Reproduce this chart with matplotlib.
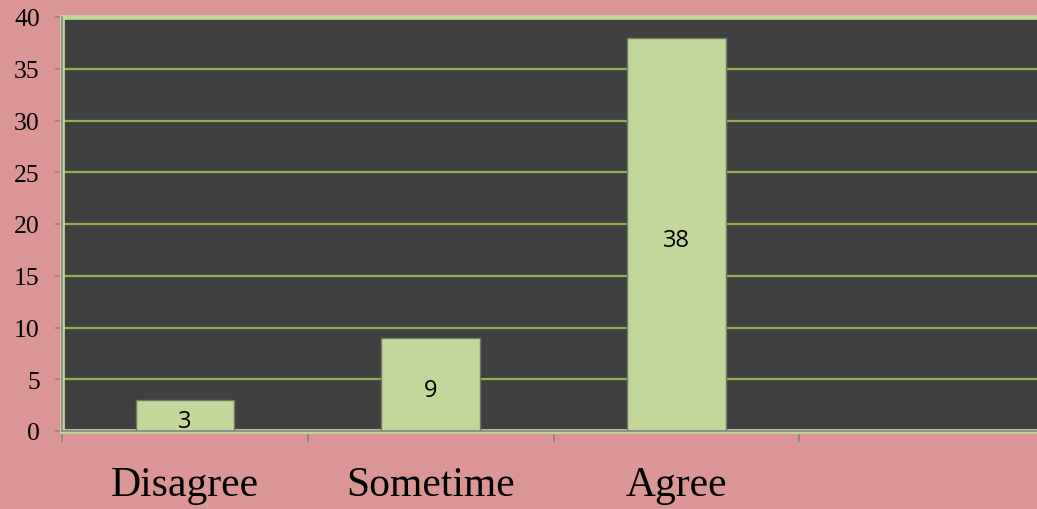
import matplotlib
matplotlib.use("Agg")
import matplotlib.pyplot as plt

# chart data
categories = ["Disagree", "Sometime", "Agree", ""]
values = [3, 9, 38, None]
y_ticks = [0, 5, 10, 15, 20, 25, 30, 35, 40]

pink = "#da9694"
dark = "#404040"
bar_green = "#c4d79b"
grid_green = "#8fb150"
gray = "#868686"

fig = plt.figure(figsize=(10.37, 5.10), dpi=100, facecolor=pink)
ax = fig.add_axes([62 / 1037, 78 / 510, 983 / 1037, 414 / 510])
ax.set_facecolor(dark)

xs = list(range(len(categories)))
bar_x = [x for x, v in zip(xs, values) if v is not None]
bar_v = [v for v in values if v is not None]
ax.bar(bar_x, bar_v, width=0.4, color=bar_green, edgecolor="#6f7a63",
       linewidth=1, zorder=3)

for x, v in zip(bar_x, bar_v):
    ax.text(x, v / 2 - 0.5, str(v), ha="center", va="center",
            fontsize=17, family="Open Sans", color="black", zorder=4)

ax.set_xlim(-0.5, len(categories) - 0.5)
ax.set_ylim(0, 40)
ax.set_yticks(y_ticks)
ax.set_yticklabels([str(t) for t in y_ticks], family="Liberation Serif",
                   fontsize=18.5)
ax.yaxis.grid(True, color=grid_green, linewidth=1.6, zorder=1)
ax.set_axisbelow(True)

ax.set_xticks(xs)
ax.set_xticklabels(categories, family="Liberation Serif", fontsize=30)
ax.set_xticks([x - 0.5 for x in xs] + [len(xs) - 0.5], minor=True)
ax.tick_params(axis="x", which="major", length=0, pad=25)
ax.tick_params(axis="x", which="minor", length=8, width=1.2, color=gray)
ax.tick_params(axis="y", length=5, width=1.2, color=gray, pad=11)

for side in ax.spines.values():
    side.set_color(bar_green)
    side.set_linewidth(3.4)

ax.axhline(0, color=gray, linewidth=1.2, zorder=5, clip_on=False)
ax.axvline(-0.5, color=gray, linewidth=1.2, zorder=5, clip_on=False)

fig.savefig("out.png", dpi=100, facecolor=pink)
